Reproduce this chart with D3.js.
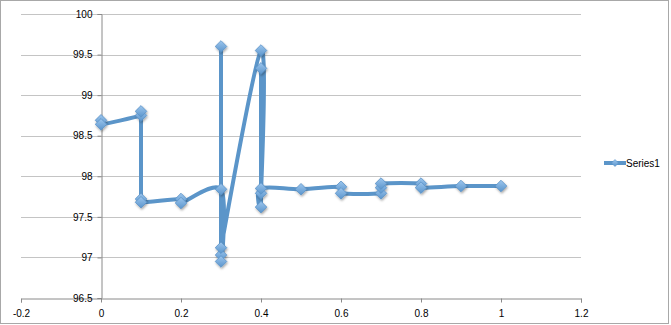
<!DOCTYPE html>
<html><head><meta charset="utf-8">
<script src="https://cdn.jsdelivr.net/npm/d3@7"></script>
<style>
html,body{margin:0;padding:0;background:#fff;}
svg{display:block;}
text{font-family:"Liberation Sans",Arial,sans-serif;font-size:10px;fill:#000;}
</style></head>
<body>
<script>
const seriesName = "Series1";
const xValues = [0, 0, 0.1, 0.1, 0.1, 0.1, 0.2, 0.2, 0.3, 0.3, 0.3, 0.3, 0.3, 0.4, 0.4, 0.4, 0.4, 0.4, 0.5, 0.6, 0.6, 0.7, 0.7, 0.7, 0.8, 0.8, 0.9, 1.0];
const yValues = [98.69, 98.64, 98.75, 98.80, 97.72, 97.68, 97.72, 97.67, 97.84, 97.03, 99.60, 96.95, 97.12, 99.55, 97.79, 99.33, 97.62, 97.85, 97.84, 97.87, 97.79, 97.79, 97.86, 97.91, 97.91, 97.86, 97.88, 97.88];
const xTicks = [-0.2, 0, 0.2, 0.4, 0.6, 0.8, 1, 1.2];
const yTicks = [96.5, 97, 97.5, 98, 98.5, 99, 99.5, 100];

const W = 671, H = 325;
const svg = d3.select("body").append("svg").attr("width", W).attr("height", H);

const defs = svg.append("defs");
const f = defs.append("filter").attr("id","sh").attr("x","-50%").attr("y","-50%").attr("width","200%").attr("height","200%");
f.append("feDropShadow").attr("dx",0.8).attr("dy",1.5).attr("stdDeviation",0.9).attr("flood-color","#000").attr("flood-opacity",0.35);
const g = defs.append("linearGradient").attr("id","mk").attr("x1",0).attr("y1",0).attr("x2",0).attr("y2",1);
g.append("stop").attr("offset","0%").attr("stop-color","#9cc6ee");
g.append("stop").attr("offset","100%").attr("stop-color","#5b95cc");

// frame
svg.append("rect").attr("x",0.5).attr("y",0.5).attr("width",668).attr("height",323)
  .attr("fill","#fff").attr("stroke","#a8a8a8").attr("stroke-width",1);

const x = d3.scaleLinear().domain([-0.2, 1.2]).range([21, 581]);
const y = d3.scaleLinear().domain([96.5, 100]).range([298, 14]);

// gridlines
svg.append("g").selectAll("line").data(yTicks.filter(d => d !== 96.5)).join("line")
  .attr("x1", x(-0.2)).attr("x2", x(1.2))
  .attr("y1", d => Math.round(y(d)) + 0.5).attr("y2", d => Math.round(y(d)) + 0.5)
  .attr("stroke", "#c4c4c4").attr("stroke-width", 1.2);

// x axis
const xAxis = d3.axisBottom(x).tickValues(xTicks).tickSize(4).tickPadding(7).tickFormat(d => String(d));
const gx = svg.append("g").attr("transform", `translate(0,${Math.round(y(96.5)) + 0.5})`).call(xAxis);
gx.select(".domain").attr("stroke", "#8a8a8a");
gx.selectAll(".tick line").attr("stroke", "#8a8a8a");
gx.selectAll("text").attr("font-size", 10).attr("font-family", "Liberation Sans, Arial, sans-serif");

// y axis at x = 0
const yAxis = d3.axisLeft(y).tickValues(yTicks).tickSize(4).tickPadding(5).tickFormat(d => String(d));
const gy = svg.append("g").attr("transform", `translate(${Math.round(x(0)) + 0.5},0)`).call(yAxis);
gy.select(".domain").attr("stroke", "#8a8a8a");
gy.selectAll(".tick line").attr("stroke", "#8a8a8a");
gy.selectAll("text").attr("font-size", 10).attr("font-family", "Liberation Sans, Arial, sans-serif");

// Excel-like smoothed line: Bezier with limited control distances
const pts = xValues.map((v, i) => [v, yValues[i]]);
const px = pts.map(d => [x(d[0]), y(d[1])]);
function smoothPath(P) {
  const p = d3.path();
  const dist = (a, b) => Math.hypot(b[0] - a[0], b[1] - a[1]);
  p.moveTo(P[0][0], P[0][1]);
  for (let i = 0; i < P.length - 1; i++) {
    const p0 = P[Math.max(0, i - 1)], p1 = P[i], p2 = P[i + 1], p3 = P[Math.min(P.length - 1, i + 2)];
    const d12 = dist(p1, p2), d02 = dist(p0, p2), d13 = dist(p1, p3);
    let c1 = p1, c2 = p2;
    if (d02 > 0) {
      const k = Math.min(d02 / 6, d12 / 2) / d02;
      c1 = [p1[0] + (p2[0] - p0[0]) * k, p1[1] + (p2[1] - p0[1]) * k];
    }
    if (d13 > 0) {
      const k = Math.min(d13 / 6, d12 / 2) / d13;
      c2 = [p2[0] - (p3[0] - p1[0]) * k, p2[1] - (p3[1] - p1[1]) * k];
    }
    p.bezierCurveTo(c1[0], c1[1], c2[0], c2[1], p2[0], p2[1]);
  }
  return p.toString();
}
svg.append("path").attr("d", smoothPath(px))
  .attr("fill", "none").attr("stroke", "#5b95c9").attr("stroke-width", 4)
  .attr("stroke-linejoin", "round").attr("stroke-linecap", "round");

// markers
const diamond = (cx, cy, r) => `M${cx},${cy - r}L${cx + r},${cy}L${cx},${cy + r}L${cx - r},${cy}Z`;
svg.append("g").attr("filter", "url(#sh)").selectAll("path").data(pts).join("path")
  .attr("d", d => diamond(x(d[0]), y(d[1]), 5.8))
  .attr("fill", "url(#mk)").attr("stroke", "#5a92c6").attr("stroke-width", 0.8);

// legend
const lg = svg.append("g");
lg.append("line").attr("x1", 604).attr("x2", 626).attr("y1", 163).attr("y2", 163)
  .attr("stroke", "#5b95c9").attr("stroke-width", 4);
lg.append("path").attr("d", diamond(615, 163, 3.5)).attr("fill", "url(#mk)").attr("stroke", "#5a92c6").attr("stroke-width", 0.6);
lg.append("text").attr("x", 626).attr("y", 166.5).text(seriesName);
</script>
</body></html>
